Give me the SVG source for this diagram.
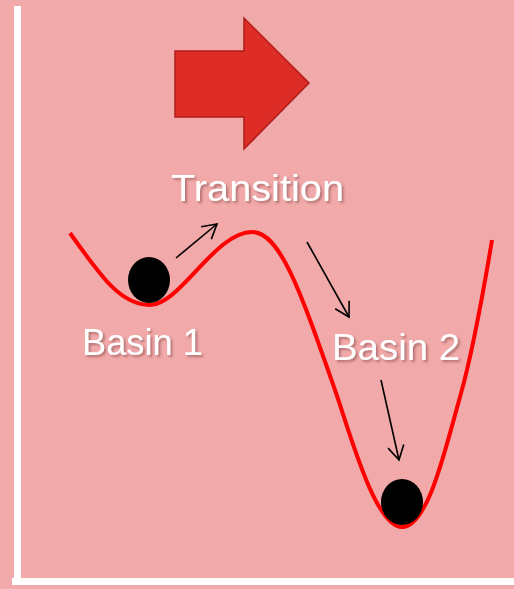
<svg xmlns="http://www.w3.org/2000/svg" width="514" height="589" viewBox="0 0 514 589">
  <style>
    .lbl { font-family: "Liberation Sans", "DejaVu Sans", sans-serif; font-size: 36px; fill: #ffffff; filter: url(#shadow); }
    .conn { stroke: #000000; stroke-width: 1.6; fill: none; marker-end: url(#head); }
    .ball { fill: #000000; }
  </style>
  <defs>
    <filter id="shadow" x="-10%" y="-20%" width="130%" height="150%">
      <feDropShadow dx="2" dy="2" stdDeviation="1.2" flood-color="#7a3a3a" flood-opacity="0.5"/>
    </filter>
    <marker id="head" viewBox="0 0 20 20" refX="16" refY="10" markerWidth="20" markerHeight="20" markerUnits="userSpaceOnUse" orient="auto">
      <polyline points="2,2 16,10 2,18" fill="none" stroke="#000000" stroke-width="1.6"/>
    </marker>
  </defs>
  <rect x="0" y="0" width="514" height="589" fill="#F1A9A9"/>
  <g id="axes" fill="#ffffff">
    <rect x="14" y="6" width="7" height="578"/>
    <rect x="12" y="578" width="502" height="7"/>
  </g>
  <g id="big-arrow">
    <polygon points="175,51 244,51 244,18 309,83 244,149 244,117 175,117" fill="#DE2C27" stroke="#B01E1A" stroke-width="1.5"/>
  </g>
  <g id="landscape">
    <path d="M70,233 C100,275 120,305 150,305 C180,305 215,232 252,232 C280,232 300,290 335,390 C350,433 375,527 402,527 C428,527 445,450 460,397 C470,362 482,300 492,240" fill="none" stroke="#FF0000" stroke-width="4" stroke-linecap="butt"/>
  </g>
  <g id="ball1"><ellipse class="ball" cx="149" cy="280" rx="21" ry="23"/></g>
  <g id="ball2"><ellipse class="ball" cx="402" cy="502" rx="21" ry="23"/></g>
  <g id="label-transition"><text class="lbl" x="171" y="201" textLength="173" lengthAdjust="spacingAndGlyphs">Transition</text></g>
  <g id="label-basin1"><text class="lbl" x="82" y="355" textLength="121" lengthAdjust="spacingAndGlyphs">Basin 1</text></g>
  <g id="label-basin2"><text class="lbl" x="332" y="360" textLength="128" lengthAdjust="spacingAndGlyphs">Basin 2</text></g>
  <g id="connectors">
    <line class="conn" x1="176" y1="258" x2="217" y2="224"/>
    <line class="conn" x1="307" y1="242" x2="349" y2="317"/>
    <line class="conn" x1="381" y1="380" x2="399" y2="460"/>
  </g>
</svg>
